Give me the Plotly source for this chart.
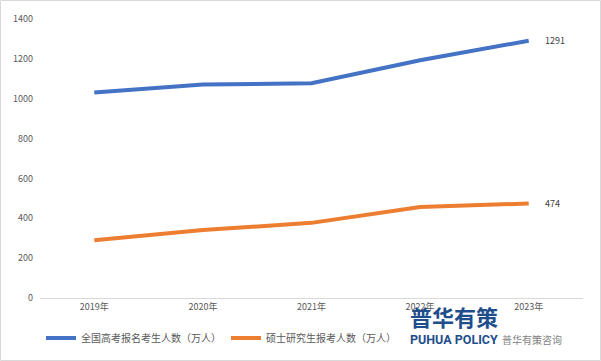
import plotly.graph_objects as go

years = ["2019年", "2020年", "2021年", "2022年", "2023年"]
gaokao = [1031, 1071, 1078, 1193, 1291]
kaoyan = [290, 341, 377, 457, 474]
name_gaokao = "全国高考报名考生人数（万人）"
name_kaoyan = "硕士研究生报考人数（万人）"
y_ticks = [0, 200, 400, 600, 800, 1000, 1200, 1400]

FONT = "Noto Sans CJK SC"
W, H = 601, 361
L, R, T, B = 40, 18, 19, 63
pw, ph = W - L - R, H - T - B

fig = go.Figure()
fig.add_trace(go.Scatter(
    x=years, y=gaokao, name=name_gaokao, mode="lines",
    line=dict(color="#4472C4", width=4),
))
fig.add_trace(go.Scatter(
    x=years, y=kaoyan, name=name_kaoyan, mode="lines",
    line=dict(color="#ED7D31", width=4),
))

def px(xp):
    return (xp - L) / pw

def py(yp):
    return (H - B - yp) / ph

annotations = [
    dict(text=str(gaokao[-1]), x=years[-1], y=gaokao[-1], xref="x", yref="y",
         xanchor="left", yanchor="middle", xshift=14, showarrow=False,
         font=dict(size=9, color="#404040")),
    dict(text=str(kaoyan[-1]), x=years[-1], y=kaoyan[-1], xref="x", yref="y",
         xanchor="left", yanchor="middle", xshift=14, showarrow=False,
         font=dict(size=9, color="#404040")),
    dict(text="普华有策咨询", xref="paper", yref="paper", x=px(532), y=py(339),
         xanchor="center", yanchor="middle",
         showarrow=False, font=dict(size=10, color="#7F7F7F")),
    dict(text="<b>普华有策</b>", xref="paper", yref="paper", x=px(454), y=py(316),
         xanchor="center", yanchor="middle",
         showarrow=False, font=dict(size=22, color="#1F4E8C")),
    dict(text="<b>PUHUA POLICY</b>", xref="paper", yref="paper", x=px(454), y=py(339),
         xanchor="center", yanchor="middle",
         showarrow=False, font=dict(size=12.5, color="#1F4E8C", family="Roboto")),
]

fig.update_layout(
    width=W, height=H,
    margin=dict(l=L, r=R, t=T, b=B, autoexpand=False),
    paper_bgcolor="white", plot_bgcolor="white",
    font=dict(family=FONT, size=9, color="#595959"),
    xaxis=dict(range=[-0.5, 4.5], showgrid=False, showline=True, automargin=False,
               linecolor="#D9D9D9", linewidth=1, ticks="", zeroline=False,
               tickfont=dict(size=9, color="#595959")),
    yaxis=dict(range=[0, 1400], tickvals=y_ticks, showgrid=False, automargin=False,
               showline=False, zeroline=False, ticks="", ticklabelstandoff=6,
               tickfont=dict(size=9, color="#595959")),
    legend=dict(orientation="h", x=px(41), xanchor="left", y=py(338),
                yanchor="middle", font=dict(size=10, color="#595959"),
                itemwidth=30, bgcolor="rgba(0,0,0,0)"),
    showlegend=True,
    hovermode=False,
    shapes=[dict(type="rect", xref="paper", yref="paper",
                 x0=px(0.5), x1=px(600.5), y0=py(360.5), y1=py(0.5),
                 line=dict(color="#D9D9D9", width=1))],
    annotations=annotations,
)

fig.write_html("out.html", config={"displayModeBar": False},
               post_script="document.body.style.margin='0';document.body.style.overflow='hidden';")
